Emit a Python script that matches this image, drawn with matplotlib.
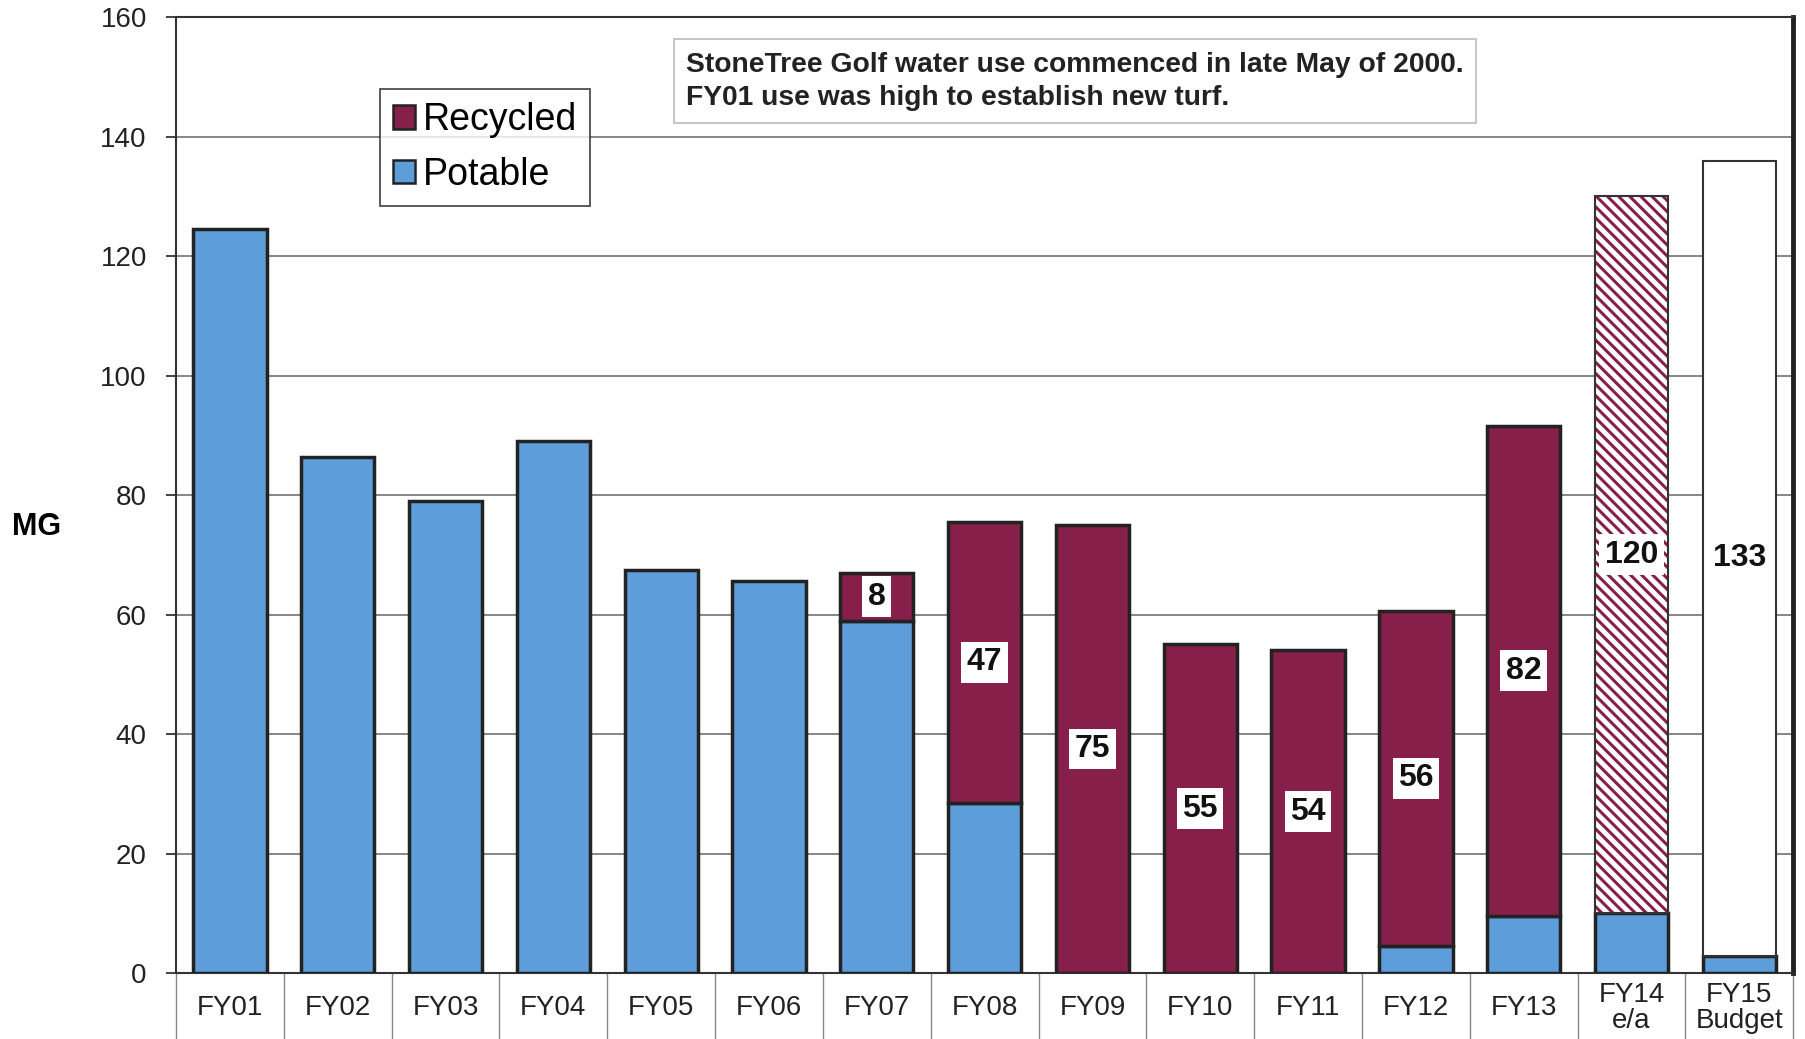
import numpy as np
import matplotlib.pyplot as plt
from matplotlib.patches import Patch

plt.rcParams['font.family'] = ['Liberation Sans', 'DejaVu Sans']
plt.rcParams['hatch.linewidth'] = 2.2

# Water use (MG) by fiscal year
years = ['FY01', 'FY02', 'FY03', 'FY04', 'FY05', 'FY06', 'FY07', 'FY08',
         'FY09', 'FY10', 'FY11', 'FY12', 'FY13', 'FY14\ne/a', 'FY15\nBudget']
potable = [124.5, 86.4, 79.0, 89.1, 67.5, 65.7, 59.0, 28.5, 0, 0, 0, 4.6, 9.6, 10.0, 2.9]
recycled = [0, 0, 0, 0, 0, 0, 8, 47, 75, 55, 54, 56, 82, 120, 133]
yticks = [0, 20, 40, 60, 80, 100, 120, 140, 160]

note = ("StoneTree Golf water use commenced in late May of 2000.\n"
        "FY01 use was high to establish new turf.")

blue = '#5d9dd9'
maroon = '#861f4a'
edge = '#222222'
est_idx = 13      # FY14 estimate (hatched)
budget_idx = 14   # FY15 budget (white)

fig = plt.figure(figsize=(18.05, 10.39), dpi=100)
ax = fig.add_axes([0.0975, 0.0635, 0.896, 0.920])

x = np.arange(len(years))
w = 0.68

# potable on bottom
ax.bar(x, potable, width=w, color=blue, edgecolor=edge, linewidth=2.5, zorder=3)

# recycled stacked on top
for i in x:
    r = recycled[i]
    if r <= 0:
        continue
    if i == est_idx:
        ax.bar(i, r, bottom=potable[i], width=w, color='white', edgecolor=maroon,
               hatch='\\\\\\', linewidth=0, zorder=3)
        ax.bar(i, r, bottom=potable[i], width=w, fill=False, edgecolor='#333333',
               linewidth=1.5, zorder=4)
    elif i == budget_idx:
        ax.bar(i, r, bottom=potable[i], width=w, color='white', edgecolor='#333333',
               linewidth=1.5, zorder=3)
    else:
        ax.bar(i, r, bottom=potable[i], width=w, color=maroon, edgecolor=edge,
               linewidth=2.5, zorder=3)
    ax.text(i, potable[i] + r / 2, f'{r:.0f}', ha='center', va='center',
            fontsize=23, fontweight='bold', color='#111111', zorder=5,
            bbox=dict(facecolor='white', edgecolor='none', pad=4))

ax.set_xlim(-0.5, len(years) - 0.5)
ax.set_ylim(0, 160)
ax.set_yticks(yticks)
ax.set_xticks(x)
ax.set_xticklabels(years)
ax.set_xticks(np.arange(-0.5, len(years), 1), minor=True)

ax.tick_params(axis='y', labelsize=20, length=7, width=1.2, pad=14,
               colors='#222222')
ax.tick_params(axis='x', which='major', labelsize=20, length=0, pad=25,
               labelcolor='#222222')
ax.tick_params(axis='x', which='minor', length=60, width=1, color='#888888')
for lab in ax.get_xticklabels():
    lab.set_va('center')
    lab.set_linespacing(1.0)

ax.yaxis.grid(True, color='#666666', linewidth=1.1)
ax.set_axisbelow(True)

for s in ['top', 'left', 'bottom']:
    ax.spines[s].set_color('#333333')
    ax.spines[s].set_linewidth(1.5)
ax.spines['right'].set_color('#222222')
ax.spines['right'].set_linewidth(3.5)

ax.set_ylabel('MG', rotation=0, fontsize=22, fontweight='bold', va='center', ha='center')
ax.yaxis.set_label_coords(-0.086, 0.4665)

handles = [Patch(facecolor=maroon, edgecolor=edge, linewidth=1.8, label='Recycled'),
           Patch(facecolor=blue, edgecolor=edge, linewidth=1.8, label='Potable')]
leg = ax.legend(handles=handles, loc='upper left', bbox_to_anchor=(0.126, 0.925),
                borderaxespad=0, fontsize=27, frameon=True, fancybox=False,
                edgecolor='#222222', handlelength=0.6, handleheight=0.6,
                handletextpad=0.2, labelspacing=0.5, borderpad=0.35)
leg.get_frame().set_linewidth(1.3)

ax.text(0.3154, 0.964, note, transform=ax.transAxes, ha='left', va='top',
        fontsize=20.3, fontweight='bold', color='#222222', linespacing=1.35, zorder=6,
        bbox=dict(facecolor='white', edgecolor='#bbbbbb', linewidth=1.2, pad=9))

plt.savefig('out.png', dpi=100)
